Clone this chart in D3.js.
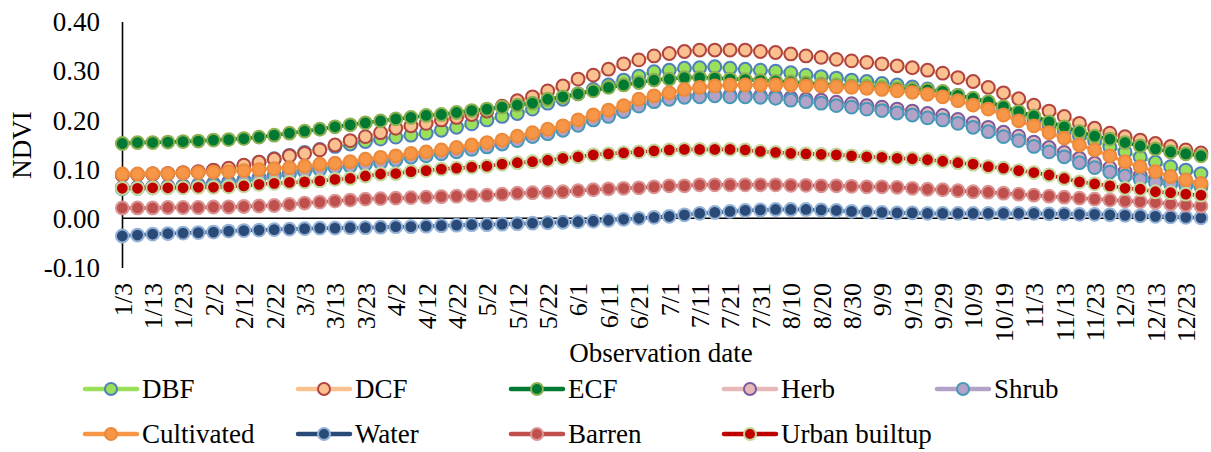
<!DOCTYPE html>
<html>
<head>
<meta charset="utf-8">
<script src="https://cdn.jsdelivr.net/npm/d3@7"></script>
<style>
  body { margin: 0; background: #fff; }
</style>
</head>
<body>
<div id="chart"></div>
<script>
const FONT = "'Liberation Serif', 'Times New Roman', Times, serif"

// observation dates (every 5 days, 10/29 missing)
let dates = ["1/3","1/8","1/13","1/18","1/23","1/28","2/2","2/7","2/12","2/17","2/22","2/27",
    "3/3","3/8","3/13","3/18","3/23","3/28","4/2","4/7","4/12","4/17","4/22","4/27",
    "5/2","5/7","5/12","5/17","5/22","5/27","6/1","6/6","6/11","6/16","6/21","6/26",
    "7/1","7/6","7/11","7/16","7/21","7/26","7/31","8/5","8/10","8/15","8/20","8/25",
    "8/30","9/4","9/9","9/14","9/19","9/24","9/29","10/4","10/9","10/14","10/19","10/24",
    "11/3","11/8","11/13","11/18","11/23","11/28","12/3","12/8","12/13","12/18","12/23","12/28"]

let xTickLabels = ["1/3","1/13","1/23","2/2","2/12","2/22","3/3","3/13","3/23","4/2","4/12","4/22",
    "5/2","5/12","5/22","6/1","6/11","6/21","7/1","7/11","7/21","7/31","8/10","8/20",
    "8/30","9/9","9/19","9/29","10/9","10/19","11/3","11/13","11/23","12/3","12/13","12/23"]

let yTicks = [-0.1, 0, 0.1, 0.2, 0.3, 0.4]

let dbf = [0.088,0.089,0.090,0.091,0.092,0.094,0.097,0.101,0.107,0.114,0.121,0.128,0.134,0.140,0.146,
    0.151,0.156,0.161,0.165,0.169,0.173,0.179,0.185,0.192,0.200,0.207,0.213,0.222,0.234,0.242,0.253,0.262,0.271,0.281,
    0.289,0.298,0.301,0.305,0.306,0.308,0.305,0.303,0.301,0.299,0.296,0.291,0.288,0.285,0.281,0.278,0.274,0.271,0.267,0.263,
    0.257,0.250,0.242,0.233,0.223,0.212,0.200,0.189,0.178,0.167,0.157,0.145,0.135,0.124,0.114,0.105,0.098,0.091]

let dcf = [0.088,0.089,0.090,0.091,0.093,0.095,0.098,0.102,0.108,0.114,0.120,0.127,
    0.132,0.139,0.149,0.158,0.166,0.174,0.183,0.188,0.193,0.200,0.205,0.211,0.218,0.228,0.239,0.247,0.259,0.269,0.283,0.291,0.303,0.314,
    0.322,0.330,0.335,0.339,0.342,0.342,0.342,0.342,0.339,0.337,0.334,0.330,0.327,0.323,0.320,0.317,0.314,0.310,0.306,0.301,0.295,
    0.286,0.278,0.266,0.255,0.243,0.230,0.218,0.207,0.193,0.183,0.173,0.166,0.159,0.152,0.146,0.139,0.133]

let ecf = [0.152,0.154,0.154,0.155,0.156,0.157,0.159,0.160,0.162,0.165,0.169,0.173,
    0.177,0.181,0.186,0.190,0.194,0.198,0.202,0.205,0.209,0.211,0.215,0.219,0.222,0.226,0.230,0.234,0.242,0.247,0.253,0.259,0.266,0.271,
    0.276,0.281,0.283,0.286,0.286,0.285,0.283,0.282,
    0.280,0.279,0.277,0.275,0.273,0.271,0.269,0.268,0.266,0.264,0.262,0.261,0.258,
    0.250,0.244,0.237,0.227,0.217,0.208,0.196,0.186,0.176,0.167,0.161,0.154,0.147,0.141,0.135,0.131,0.127]

let herb = [0.062,0.063,0.064,0.065,0.066,0.068,0.071,0.074,0.078,0.083,0.088,0.093,0.098,0.102,0.106,
    0.109,0.113,0.116,0.121,0.126,0.130,0.134,0.138,0.143,0.148,0.154,0.161,0.168,0.175,0.182,0.192,0.202,0.210,0.219,
    0.230,0.239,0.245,0.249,0.250,0.251,0.250,0.250,0.249,0.248,0.245,0.242,0.240,0.236,0.233,0.229,0.226,0.222,0.218,0.213,0.209,
    0.201,0.194,0.185,0.175,0.167,0.155,0.144,0.134,0.122,0.112,0.103,0.095,0.087,0.080,0.075,0.071,0.068]

let shrub = [0.060,0.061,0.062,0.063,0.064,0.066,0.068,0.071,0.075,0.080,0.085,0.090,0.095,0.099,0.103,
    0.106,0.110,0.113,0.118,0.124,0.127,0.131,0.135,0.140,0.145,0.151,0.158,0.166,0.172,0.179,0.189,0.200,0.207,0.217,
    0.228,0.237,0.242,0.246,0.247,0.249,0.247,0.247,0.246,0.244,0.240,0.237,0.234,0.229,0.226,0.222,0.219,0.214,0.210,0.204,0.200,
    0.193,0.185,0.176,0.166,0.158,0.146,0.135,0.125,0.113,0.103,0.094,0.086,0.079,0.073,0.069,0.066,0.064]

let cultivated = [0.090,0.090,0.091,0.091,0.092,0.093,0.094,0.095,0.097,0.099,0.101,0.103,
    0.106,0.110,0.112,0.115,0.120,0.124,0.127,0.132,0.135,0.139,0.144,0.149,0.154,0.159,0.167,0.174,0.181,0.188,0.200,0.210,0.220,0.229,
    0.242,0.249,0.255,0.262,0.266,0.269,0.271,0.271,0.271,0.271,0.271,0.269,0.269,0.267,0.266,0.264,0.262,0.259,
    0.256,0.252,0.247,0.239,0.230,0.222,0.210,0.198,0.188,0.174,0.163,0.149,0.139,0.127,0.115,0.105,0.095,0.085,0.078,0.071]

let water = [-0.036,-0.034,-0.032,-0.031,-0.030,-0.029,-0.028,-0.026,-0.025,-0.024,-0.023,-0.022,
    -0.021,-0.020,-0.020,-0.019,-0.019,-0.018,-0.017,-0.017,-0.016,-0.015,-0.014,-0.013,-0.013,-0.012,-0.011,-0.010,-0.009,-0.008,-0.007,-0.006,-0.004,-0.002,
    0.000,0.002,0.004,0.007,0.010,0.012,0.014,0.016,0.017,0.018,0.018,0.018,0.017,0.016,0.014,0.013,0.012,0.011,0.011,0.010,0.010,
    0.010,0.010,0.010,0.010,0.010,0.010,0.009,0.009,0.008,0.008,0.007,0.006,0.005,0.004,0.003,0.002,0.001]

let barren = [0.021,0.021,0.021,0.022,0.022,0.022,0.023,0.023,0.024,0.025,0.026,0.028,
    0.031,0.033,0.035,0.037,0.039,0.040,0.041,0.042,0.043,0.044,0.045,0.047,0.047,0.049,0.051,0.052,0.053,0.054,0.056,0.058,0.060,0.061,
    0.062,0.064,0.066,0.066,0.068,0.068,0.068,0.068,0.068,0.068,0.067,0.067,0.066,0.066,0.065,0.064,0.064,0.063,0.061,0.059,0.058,
    0.056,0.054,0.053,0.051,0.049,0.047,0.045,0.043,0.041,0.039,0.037,0.035,0.034,0.032,0.029,0.027,0.025]

let urban = [0.061,0.061,0.062,0.062,0.062,0.063,0.063,0.064,0.066,0.069,0.071,0.073,
    0.074,0.076,0.079,0.081,0.086,0.090,0.091,0.095,0.097,0.100,0.102,0.104,0.106,0.110,0.113,0.115,0.118,0.122,0.125,0.129,0.131,0.133,
    0.135,0.137,0.139,0.140,0.140,0.140,0.140,0.139,0.136,0.134,0.132,0.131,0.130,0.129,0.127,0.125,0.124,0.122,0.121,0.119,0.116,
    0.113,0.110,0.105,0.102,0.097,0.093,0.088,0.081,0.074,0.070,0.066,0.061,0.059,0.054,0.052,0.049,0.047]

// series in drawing order: name, values, line colour, marker fill, marker border
let series = [
    {name: "DBF", values: dbf, line: "#9be05a", fill: "#9be05a", edge: "#4f7fbd"},
    {name: "DCF", values: dcf, line: "#fac090", fill: "#fac090", edge: "#b0443f"},
    {name: "ECF", values: ecf, line: "#007a33", fill: "#007a33", edge: "#8db050"},
    {name: "Herb", values: herb, line: "#e6b9b8", fill: "#e6b9b8", edge: "#7a5ba0"},
    {name: "Shrub", values: shrub, line: "#b3a2c7", fill: "#b3a2c7", edge: "#4499b8"},
    {name: "Cultivated", values: cultivated, line: "#f79646", fill: "#f79646", edge: "#ec8a3c"},
    {name: "Water", values: water, line: "#2a4b78", fill: "#2a4b78", edge: "#95b3d7"},
    {name: "Barren", values: barren, line: "#c0504d", fill: "#c0504d", edge: "#d99694"},
    {name: "Urban builtup", values: urban, line: "#c00000", fill: "#c00000", edge: "#c3d69b"}
]

let width = 1211, height = 452
let svg = d3.select("#chart").append("svg")
    .attr("width", width)
    .attr("height", height)
    .attr("font-family", FONT)

let x = d3.scalePoint().domain(dates).range([122.3, 1201])
let y = d3.scaleLinear().domain([-0.1, 0.4]).range([267.5, 21.5])

// y axis
let yAxis = svg.append("g")
    .attr("transform", "translate(122,0)")
    .call(d3.axisLeft(y).tickValues(yTicks).tickSize(0).tickPadding(22)
        .tickFormat(d => d.toFixed(2)))
yAxis.attr("font-family", FONT)
yAxis.select(".domain").attr("stroke", "#000").attr("stroke-width", 1.6)
yAxis.selectAll("text")
    .style("font-family", FONT)
    .style("font-size", "27px")
    .attr("fill", "#000")
    .attr("dy", "0.34em")

// category labels below plot
let xAxis = svg.append("g")
    .attr("transform", "translate(0,283)")
    .call(d3.axisBottom(x).tickValues(xTickLabels).tickSize(0))
xAxis.attr("font-family", FONT)
xAxis.select(".domain").remove()
xAxis.selectAll("text")
    .style("font-family", FONT)
    .style("font-size", "26px")
    .attr("fill", "#000")
    .attr("transform", "rotate(-90)")
    .attr("x", 0)
    .attr("y", 0)
    .attr("dy", "0.34em")
    .attr("text-anchor", "end")

// zero line
svg.append("line")
    .attr("x1", x(dates[0])).attr("x2", 1206)
    .attr("y1", y(0)).attr("y2", y(0))
    .attr("stroke", "#000").attr("stroke-width", 1.6)

// titles
svg.append("text")
    .attr("transform", "translate(31,145) rotate(-90)")
    .attr("text-anchor", "middle")
    .style("font-family", FONT)
    .style("font-size", "27px")
    .text("NDVI")

svg.append("text")
    .attr("x", 661).attr("y", 362)
    .attr("text-anchor", "middle")
    .style("font-family", FONT)
    .style("font-size", "27px")
    .text("Observation date")

// series
let line = d3.line()
    .x((d, i) => x(dates[i]))
    .y(d => y(d))

series.forEach(function (s) {
    let g = svg.append("g").attr("class", "series")
    g.append("path")
        .datum(s.values)
        .attr("d", line)
        .attr("fill", "none")
        .attr("stroke", s.line)
        .attr("stroke-width", 3.5)
    g.selectAll("circle")
        .data(s.values)
        .enter().append("circle")
        .attr("cx", (d, i) => x(dates[i]))
        .attr("cy", d => y(d))
        .attr("r", 6.4)
        .attr("fill", s.fill)
        .attr("stroke", s.edge)
        .attr("stroke-width", 2)
})

// legend
let legend = svg.append("g")
let legendX = d3.scalePoint().domain([0, 1, 2, 3, 4]).range([85, 937])
let legendY = [389, 434]

series.forEach(function (s, i) {
    let col = i < 5 ? i : i - 5
    let row = i < 5 ? 0 : 1
    let item = legend.append("g")
        .attr("transform", `translate(${legendX(col)}, ${legendY[row]})`)
    item.append("line")
        .attr("x1", 0).attr("x2", 52)
        .attr("stroke", s.line)
        .attr("stroke-width", 4.5)
        .attr("stroke-linecap", "round")
    item.append("circle")
        .attr("cx", 26).attr("r", 6)
        .attr("fill", s.fill)
        .attr("stroke", s.edge)
        .attr("stroke-width", 2)
    item.append("text")
        .attr("x", 57)
        .attr("dy", "0.34em")
        .style("font-family", FONT)
        .style("font-size", "27px")
        .text(s.name)
})
</script>
</body>
</html>
